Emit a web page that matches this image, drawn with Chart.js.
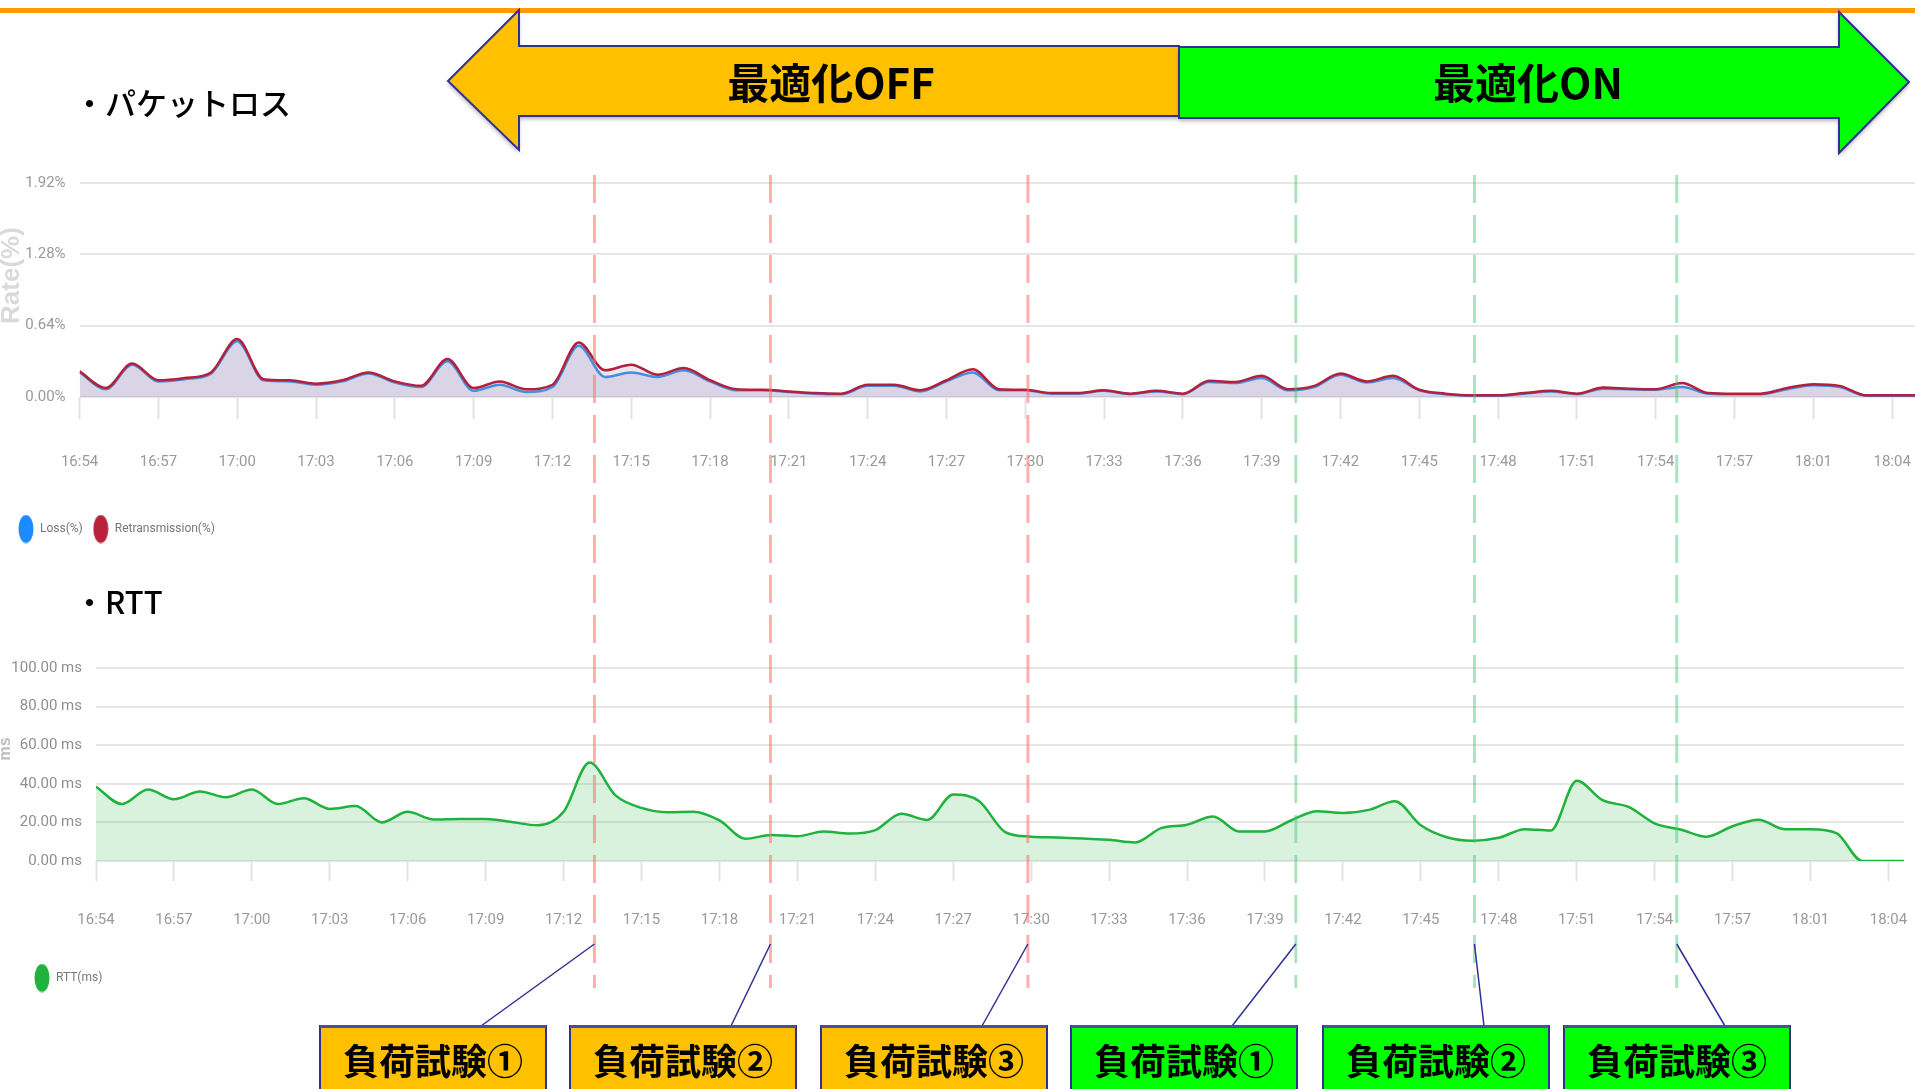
<!DOCTYPE html>
<html>
<head>
<meta charset="utf-8">
<script src="https://cdn.jsdelivr.net/npm/chart.js@4.4.0/dist/chart.umd.min.js"></script>
<style>
  html, body { margin: 0; padding: 0; background: #fff; }
  body { width: 1915px; height: 1089px; position: relative; overflow: hidden; }
  #lossBox { position: absolute; left: 0; top: 160px; width: 1915px; height: 385px; }
  #rttBox { position: absolute; left: 0; top: 620px; width: 1915px; height: 374px; }
  #overlay { position: absolute; left: 0; top: 0; pointer-events: none; }
</style>
</head>
<body>
<div id="lossBox"><canvas id="js--loss"></canvas></div>
<div id="rttBox"><canvas id="js--rtt"></canvas></div>
<canvas id="overlay" width="1915" height="1089"></canvas>
<script>
// one sample per minute slot, tick label every 3 slots
const timeLabels = ["16:54", "16:57", "17:00", "17:03", "17:06", "17:09", "17:12", "17:15",
  "17:18", "17:21", "17:24", "17:27", "17:30", "17:33", "17:36", "17:39", "17:42", "17:45",
  "17:48", "17:51", "17:54", "17:57", "18:01", "18:04"];

const lossValues = [0.22, 0.07, 0.29, 0.14, 0.16, 0.21, 0.50, 0.15, 0.14, 0.11,
  0.14, 0.21, 0.13, 0.09, 0.32, 0.055, 0.11, 0.045, 0.09, 0.46,
  0.18, 0.22, 0.18, 0.24, 0.14, 0.06, 0.06, 0.045, 0.03, 0.025,
  0.10, 0.10, 0.05, 0.14, 0.22, 0.06, 0.06, 0.03, 0.03, 0.055,
  0.025, 0.05, 0.025, 0.135, 0.125, 0.17, 0.06, 0.09, 0.20, 0.13,
  0.17, 0.06, 0.025, 0.012, 0.012, 0.03, 0.05, 0.025, 0.075, 0.07,
  0.065, 0.09, 0.03, 0.025, 0.025, 0.07, 0.105, 0.09, 0.012, 0.012,
  0.012];

const retransValues = [0.23, 0.08, 0.30, 0.15, 0.17, 0.22, 0.52, 0.16, 0.15, 0.12,
  0.15, 0.22, 0.14, 0.10, 0.34, 0.08, 0.14, 0.07, 0.11, 0.49,
  0.24, 0.29, 0.20, 0.26, 0.15, 0.07, 0.065, 0.05, 0.035, 0.03,
  0.11, 0.11, 0.06, 0.15, 0.25, 0.07, 0.065, 0.036, 0.036, 0.06,
  0.03, 0.055, 0.03, 0.145, 0.135, 0.19, 0.07, 0.10, 0.21, 0.14,
  0.19, 0.065, 0.03, 0.015, 0.015, 0.035, 0.055, 0.03, 0.085, 0.075,
  0.07, 0.125, 0.036, 0.03, 0.03, 0.08, 0.115, 0.10, 0.015, 0.015,
  0.015];

const rttValues = [38.5, 29.5, 37, 32, 36, 33, 37, 29.5, 32.5, 27,
  28.5, 20, 25.5, 21.5, 21.8, 21.8, 20.2, 18.5, 25.5, 51,
  34, 27.5, 25.3, 25.5, 21, 11.5, 13.5, 12.8, 15.3, 14.2,
  16, 24.5, 21.3, 34.5, 31, 15, 12.6, 12.2, 11.6, 11,
  9.6, 17, 18.8, 23, 15.3, 15.3, 21, 25.8, 24.9, 26.5,
  31, 18.5, 12.3, 10.5, 12, 16.5, 15.8, 41.6, 31.5, 28,
  19.5, 16.3, 12.6, 18, 21.4, 16.5, 16.5, 14.4, 0, 0,
  0];

const rateTicks = [0, 0.64, 1.28, 1.92];
const msTicks = [0, 20, 40, 60, 80, 100];

// load tests (slot position on the time axis)
const testAt = [19.6, 26.3, 36.1, 46.3, 53.1, 60.8];
const testNames = ["負荷試験①", "負荷試験②", "負荷試験③", "負荷試験①", "負荷試験②", "負荷試験③"];
const testOptimized = [false, false, false, true, true, true];

const tickFont = "Roboto, 'Liberation Sans Narrow', sans-serif";
const jp = "'Noto Sans CJK JP', sans-serif";

function ellipseIcon(color) {
  const c = document.createElement("canvas");
  c.width = 16;
  c.height = 29;
  const g = c.getContext("2d");
  g.fillStyle = color;
  g.beginPath();
  g.ellipse(8, 14.5, 7.5, 14, 0, 0, Math.PI * 2);
  g.fill();
  return c;
}

function toPoints(values) {
  return values.map(function (v, i) { return { x: i, y: v }; });
}

function timeAxis(max, tickLen, pad, h) {
  return {
    type: "linear",
    min: 0,
    max: max,
    afterBuildTicks: function (axis) {
      axis.ticks = timeLabels.map(function (t, i) { return { value: i * 3 }; });
    },
    afterFit: function (s) {
      s.height = h;
      // the big label padding must not eat into the plot width
      s.paddingLeft = 0;
      s.paddingRight = 0;
    },
    ticks: {
      autoSkip: false,
      maxRotation: 0,
      padding: pad,
      color: "#9a9a9a",
      font: { family: tickFont, size: 15 },
      callback: function (v, i) { return timeLabels[i]; }
    },
    grid: { drawOnChartArea: false, drawTicks: true, tickLength: tickLen, tickColor: "#e2e2e2", tickWidth: 2 },
    border: { display: false }
  };
}

function legendLabels(pad) {
  return {
    usePointStyle: true,
    pointStyleWidth: 16,
    padding: pad,
    color: "#777",
    font: { family: tickFont, size: 12 },
    sort: function (a, b) { return a.datasetIndex - b.datasetIndex; }
  };
}

Chart.defaults.animation = false;

const lossChart = new Chart(document.getElementById("js--loss"), {
  type: "line",
  data: {
    datasets: [
      {
        label: "Loss(%)",
        data: toPoints(lossValues),
        borderColor: "#2e8ee6",
        backgroundColor: "rgba(160,145,190,0.22)",
        borderWidth: 2.5,
        fill: "origin",
        order: 1,
        pointRadius: 0,
        pointStyle: ellipseIcon("#1a8cff"),
        cubicInterpolationMode: "monotone"
      },
      {
        label: "Retransmission(%)",
        data: toPoints(retransValues),
        borderColor: "#b3203c",
        backgroundColor: "rgba(160,145,190,0.22)",
        borderWidth: 2.5,
        fill: "origin",
        order: 0,
        pointRadius: 0,
        pointStyle: ellipseIcon("#b8223a"),
        cubicInterpolationMode: "monotone"
      }
    ]
  },
  options: {
    responsive: true,
    maintainAspectRatio: false,
    layout: { padding: { left: 8, top: 22, right: 0, bottom: 0 } },
    plugins: {
      legend: { position: "bottom", align: "start", labels: legendLabels(10) },
      tooltip: { enabled: false }
    },
    scales: {
      x: timeAxis(69.87, 22, 34, 116),
      y: {
        min: 0,
        max: 1.92,
        afterBuildTicks: function (axis) {
          axis.ticks = rateTicks.map(function (v) { return { value: v }; });
        },
        afterFit: function (s) { s.width = 71.6; },
        ticks: {
          padding: 14,
          color: "#9a9a9a",
          font: { family: tickFont, size: 15 },
          callback: function (v) { return v.toFixed(2) + "%"; }
        },
        grid: { color: "#e6e6e6", lineWidth: 2, drawTicks: false },
        border: { display: false },
        title: {
          display: true,
          // leading blanks lift the rotated text a little, as in the source
          text: "    Rate(%)",
          color: "#dadada",
          padding: { top: -11.6, bottom: 0 },
          font: { family: "'Liberation Sans', sans-serif", size: 26, weight: "bold" }
        }
      }
    }
  }
});

const rttChart = new Chart(document.getElementById("js--rtt"), {
  type: "line",
  data: {
    datasets: [
      {
        label: "RTT(ms)",
        data: toPoints(rttValues),
        borderColor: "#1fb33d",
        backgroundColor: "rgba(60,190,90,0.2)",
        borderWidth: 2.5,
        fill: "origin",
        pointRadius: 0,
        pointStyle: ellipseIcon("#1fb33d"),
        cubicInterpolationMode: "monotone"
      }
    ]
  },
  options: {
    responsive: true,
    maintainAspectRatio: false,
    layout: { padding: { left: 10, top: 48, right: 11, bottom: 0 } },
    plugins: {
      legend: { position: "bottom", align: "start", labels: legendLabels(24) },
      tooltip: { enabled: false }
    },
    scales: {
      x: timeAxis(69.6, 20, 30, 87),
      y: {
        min: 0,
        max: 100,
        afterBuildTicks: function (axis) {
          axis.ticks = msTicks.map(function (v) { return { value: v }; });
        },
        afterFit: function (s) { s.width = 86; },
        ticks: {
          padding: 14,
          color: "#8f8f8f",
          font: { family: tickFont, size: 15 },
          callback: function (v) { return v.toFixed(2) + " ms"; }
        },
        grid: { color: "#e6e6e6", lineWidth: 2, drawTicks: false },
        border: { display: false },
        title: {
          display: true,
          text: "       ms",
          color: "#bdbdbd",
          padding: { top: -13.6, bottom: 0 },
          font: { family: "'Liberation Sans', sans-serif", size: 16, weight: "bold" }
        }
      }
    }
  }
});

function arrowPath(ctx, pts) {
  ctx.beginPath();
  ctx.moveTo(pts[0][0], pts[0][1]);
  for (let i = 1; i < pts.length; i++) ctx.lineTo(pts[i][0], pts[i][1]);
  ctx.closePath();
}

function drawOverlay() {
  const c = document.getElementById("overlay");
  const ctx = c.getContext("2d");
  ctx.clearRect(0, 0, c.width, c.height);

  // orange rule at the top
  ctx.fillStyle = "#ff9a00";
  ctx.fillRect(0, 8, 1915, 5);

  // phase arrows
  const offArrow = [[448, 81], [519, 10], [519, 46], [1179, 46], [1179, 116], [519, 116], [519, 150]];
  const onArrow = [[1179, 47], [1839, 47], [1839, 12], [1909, 82], [1839, 153], [1839, 118], [1179, 118]];
  [[offArrow, "#ffc000"], [onArrow, "#00ff00"]].forEach(function (a) {
    ctx.save();
    ctx.shadowColor = "rgba(0,0,0,0.3)";
    ctx.shadowBlur = 4;
    ctx.shadowOffsetY = 3;
    arrowPath(ctx, a[0]);
    ctx.fillStyle = a[1];
    ctx.fill();
    ctx.restore();
    arrowPath(ctx, a[0]);
    ctx.strokeStyle = "#2e3192";
    ctx.lineWidth = 2;
    ctx.stroke();
  });
  ctx.fillStyle = "#000";
  ctx.textAlign = "center";
  ctx.textBaseline = "middle";
  ctx.font = "bold 42px " + jp;
  ctx.fillText("最適化OFF", 831, 83);
  ctx.fillText("最適化ON", 1528, 83);

  // section titles
  ctx.textAlign = "left";
  ctx.font = "500 31px " + jp;
  ctx.fillText("・パケットロス", 74, 103);
  ctx.fillText("・RTT", 74, 602);

  // dashed markers across both charts
  const xs = lossChart.scales.x;
  const lineX = testAt.map(function (t) { return xs.getPixelForValue(t); });
  ctx.lineWidth = 3;
  ctx.setLineDash([28, 12]);
  lineX.forEach(function (x, i) {
    ctx.strokeStyle = testOptimized[i] ? "rgba(70,195,120,0.45)" : "rgba(255,110,110,0.55)";
    ctx.beginPath();
    ctx.moveTo(x, 175);
    ctx.lineTo(x, 988);
    ctx.stroke();
  });
  ctx.setLineDash([]);

  // label boxes + leader lines
  const boxCx = [433, 683, 934, 1184, 1436, 1677];
  const boxW = 226;
  ctx.strokeStyle = "#2e3192";
  ctx.lineWidth = 1.5;
  lineX.forEach(function (x, i) {
    ctx.beginPath();
    ctx.moveTo(x, 944);
    ctx.lineTo(boxCx[i] + 48, 1026);
    ctx.stroke();
  });
  testNames.forEach(function (name, i) {
    const left = boxCx[i] - boxW / 2;
    ctx.fillStyle = testOptimized[i] ? "#00ff00" : "#ffc000";
    ctx.fillRect(left, 1026, boxW, 80);
    ctx.strokeStyle = "#2e3192";
    ctx.lineWidth = 2;
    ctx.strokeRect(left, 1026, boxW, 80);
    ctx.fillStyle = "#4a4da0";
    ctx.fillRect(left, 1025, boxW, 3);
    ctx.fillStyle = "#000";
    ctx.textAlign = "center";
    ctx.font = "bold 36px " + jp;
    ctx.fillText(name, boxCx[i], 1061);
  });
}

drawOverlay();
document.fonts.ready.then(drawOverlay);
</script>
</body>
</html>
